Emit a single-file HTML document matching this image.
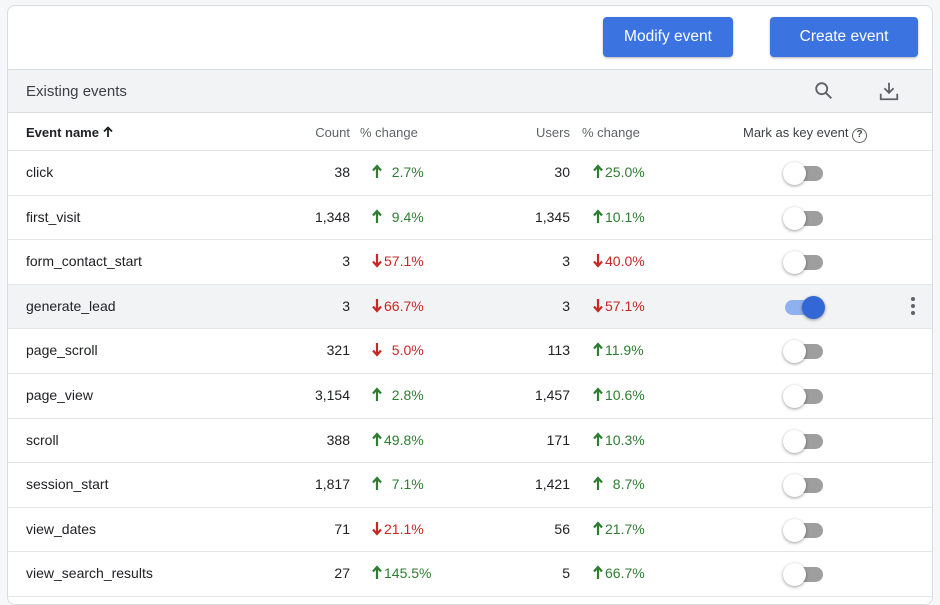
<!DOCTYPE html>
<html><head><meta charset="utf-8">
<style>
*{box-sizing:border-box;margin:0;padding:0}
body{width:940px;height:598px;background:#f6f7f9;font-family:"Liberation Sans",Arial,sans-serif;color:#202124;position:relative;overflow:hidden}
#card{position:absolute;left:7px;top:5px;width:926px;height:600px;background:#fff;border:1px solid #dadce0;border-radius:8px;overflow:hidden}
.btn{position:absolute;top:11px;height:40px;background:#3b73e0;color:#fff;border-radius:4px;font-size:15.5px;line-height:40px;text-align:center;box-shadow:0 1px 2px rgba(0,0,0,.3)}
#band{position:absolute;left:0;top:63px;width:100%;height:44px;background:#f1f3f4;border-top:1px solid #dadce0;border-bottom:1px solid #dadce0}
.abs{position:absolute;white-space:nowrap}
.hdr{font-size:13px;color:#5f6368;top:119px}
.row{position:absolute;left:0;width:100%;border-bottom:1px solid #e3e5e8;font-size:14px}
.r{text-align:right}
.up{color:#2e7d32}.dn{color:#c62828}
.tg{position:absolute;width:38px;height:15px;border-radius:8px;background:#9e9e9e}
.knob{position:absolute;top:-4px;left:-2px;width:23px;height:23px;border-radius:50%;background:#fff;box-shadow:0 1px 3px rgba(0,0,0,.4)}
.on{background:#8fb1ef}.on .knob{left:17px;background:#3367d6}
.arr{display:inline-block;vertical-align:-2px;margin-right:2px}
</style></head><body>
<div id="card">
<div class="btn" style="left:595px;width:130px">Modify event</div>
<div class="btn" style="left:762px;width:148px">Create event</div>
<div id="band">
<div class="abs" style="left:18px;top:13px;font-size:15px;color:#3c4043">Existing events</div>
<svg class="abs" style="left:805px;top:10px" width="22" height="22" viewBox="0 0 24 24"><circle cx="9.5" cy="9.5" r="6" fill="none" stroke="#5f6368" stroke-width="2"/><line x1="14" y1="14" x2="20" y2="20" stroke="#5f6368" stroke-width="2.2"/></svg>
<svg class="abs" style="left:870px;top:10px" width="22" height="22" viewBox="0 0 24 24"><path d="M12 3v11M7 9l5 5 5-5M3 15v6h18v-6" fill="none" stroke="#5f6368" stroke-width="2"/></svg>
</div>
<div class="abs hdr" style="left:18px;color:#202124;font-weight:bold">Event name <svg width="10" height="12" viewBox="0 0 10 12" style="vertical-align:-1px"><path d="M5 11V2M1 5.5L5 1.5 9 5.5" fill="none" stroke="#202124" stroke-width="1.8"/></svg></div>
<div class="abs hdr r" style="left:240px;width:102px">Count</div>
<div class="abs hdr" style="left:352px">% change</div>
<div class="abs hdr r" style="left:460px;width:102px">Users</div>
<div class="abs hdr" style="left:574px">% change</div>
<div class="abs hdr" style="left:735px;color:#3c4043">Mark as key event <span style="display:inline-block;width:15px;height:15px;border:1.5px solid #5f6368;border-radius:50%;font-size:10px;text-align:center;line-height:12px;font-weight:bold">?</span></div>
<div class="abs" style="left:0;top:144px;width:100%;border-top:1px solid #e3e5e8"></div>
<div id="rows"></div>
</div>
<script>
const names=["click","first_visit","form_contact_start","generate_lead","page_scroll","page_view","scroll","session_start","view_dates","view_search_results"];
const counts=["38","1,348","3","3","321","3,154","388","1,817","71","27"];
const countChange=[2.7,9.4,-57.1,-66.7,-5.0,2.8,49.8,7.1,-21.1,145.5];
const users=["30","1,345","3","3","113","1,457","171","1,421","56","5"];
const userChange=[25.0,10.1,-40.0,-57.1,11.9,10.6,10.3,8.7,21.7,66.7];
const keyEvent=[0,0,0,1,0,0,0,0,0,0];
const rows=document.getElementById('rows');
const H=44.6,T=145;
function chg(v,left){
  const d=document.createElement('div');d.className='abs '+(v>=0?'up':'dn');
  d.style.left=left+'px';d.style.top='13px';
  const s=Math.abs(v).toFixed(1)+'%';
  const col=v>=0?'#2e7d32':'#c62828';
  const path=v>=0?'M5 14V3M1 6.5L5 2 9 6.5':'M5 1V12M1 8.5L5 13 9 8.5';
  d.innerHTML='<svg class="arr" width="10" height="15" viewBox="0 0 10 15"><path d="'+path+'" fill="none" stroke="'+col+'" stroke-width="2.2"/></svg>'+(s.length<5?'&nbsp;&nbsp;':'')+s;
  return d;
}
names.forEach((n,i)=>{
  const r=document.createElement('div');r.className='row';
  
  
  r.style.top=(T+i*H)+'px';r.style.height=H+'px';
  if(keyEvent[i])r.style.background='#f1f3f4';
  const a=document.createElement('div');a.className='abs';a.style.cssText='left:18px;top:13px';a.textContent=n;
  
  
  const c=document.createElement('div');c.className='abs r';c.style.cssText='left:240px;width:102px;top:13px';c.textContent=counts[i];
  
  
  const cc=chg(countChange[i],364);
  
  
  const u=document.createElement('div');u.className='abs r';u.style.cssText='left:460px;width:102px;top:13px';u.textContent=users[i];
  
  
  const uc=chg(userChange[i],585);
  
  
  const t=document.createElement('div');t.className='tg'+(keyEvent[i]?' on':'');t.style.left='777px';t.style.top='15px';
  t.innerHTML='<div class="knob"></div>';
  
  
  r.append(a,c,cc,u,uc,t);
  if(keyEvent[i]){
    const m=document.createElement('div');m.className='abs';m.style.cssText='left:903px;top:12px;width:4px';
    m.innerHTML='<div style="width:4px;height:4px;border-radius:2px;background:#5f6368;margin-bottom:3px"></div>'.repeat(3);
    
    
    r.append(m);
  }
  rows.append(r);
});
</script>
</body></html>
